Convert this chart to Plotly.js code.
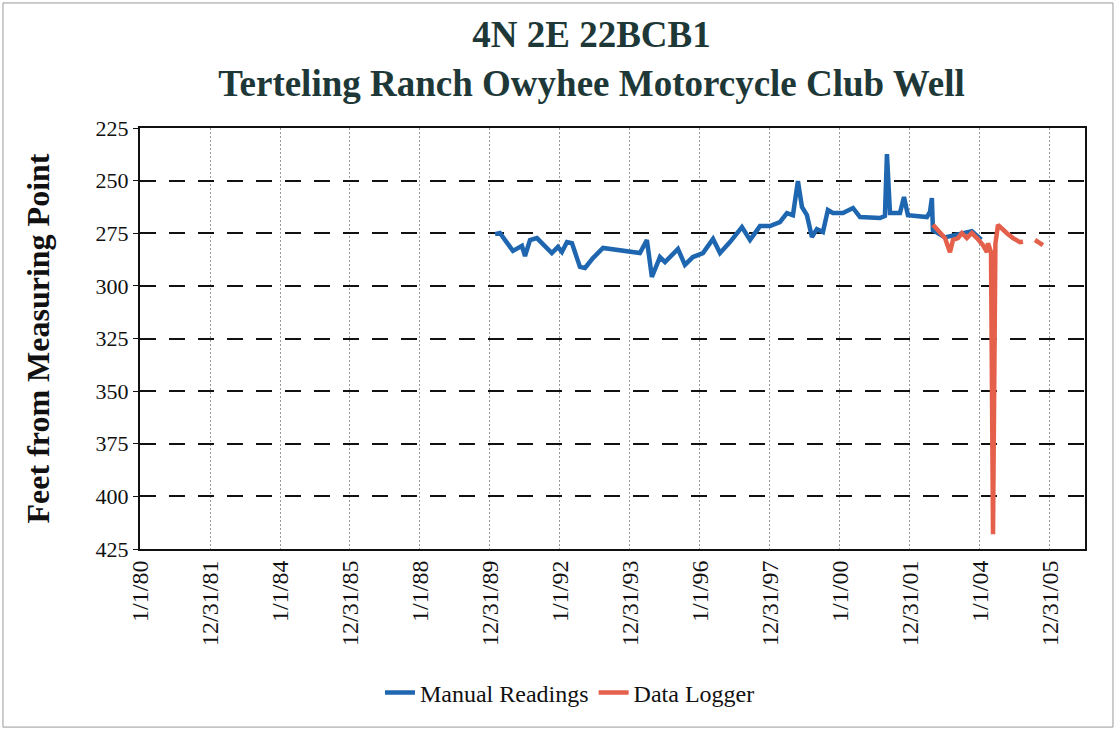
<!DOCTYPE html>
<html>
<head>
<meta charset="utf-8">
<script src="https://cdn.plot.ly/plotly-3.0.1.min.js"></script>
<style>html,body{margin:0;padding:0;background:#fff;}#chart{width:1116px;height:730px;}</style>
</head>
<body>
<div id="chart"></div>
<script>
// Manual readings (date, depth to water in feet)
const manualDates = [
  '1990-02-22','1990-04-14','1990-08-28','1990-11-30','1991-01-01','1991-02-22','1991-05-05',
  '1991-10-08','1991-12-10','1992-01-21','1992-03-14','1992-05-05','1992-07-27','1992-09-18',
  '1992-12-10','1993-03-25','1994-04-14','1994-06-26','1994-08-17','1994-11-09','1995-01-01',
  '1995-05-16','1995-07-28','1995-10-19','1996-02-01','1996-05-16','1996-07-28','1996-11-09',
  '1997-03-14','1997-06-06','1997-09-18','1998-01-01','1998-04-14','1998-06-26','1998-08-28',
  '1998-10-19','1998-11-30','1999-01-21','1999-03-14','1999-05-05','1999-07-07','1999-08-28',
  '1999-10-19','2000-02-01','2000-05-16','2000-07-28','2001-02-22','2001-04-14','2001-05-05',
  '2001-06-06','2001-09-18','2001-10-30','2001-12-10','2002-06-26','2002-07-28','2002-08-17',
  '2002-08-28','2003-01-01','2003-10-08','2004-01-15'
];
const manualValues = [
  275.4,274.9,283.4,281.0,285.8,278.2,277.3,
  284.4,281.5,283.9,279.2,279.7,291.0,291.5,
  286.8,282.0,284.4,278.2,295.8,286.3,288.7,
  282.5,290.0,286.3,284.4,277.7,284.4,279.2,
  272.1,278.2,271.6,271.6,269.7,265.4,266.4,
  250.2,262.5,266.4,276.8,273.0,274.4,264.0,
  265.4,265.4,263.0,267.3,267.8,266.8,237.4,
  265.4,265.4,257.8,266.4,267.3,264.9,258.3,
  273.5,277.0,274.0,278.0
];

// Data logger readings (null = gap in record)
const loggerDates = [
  '2002-08-28','2002-11-09','2003-01-01','2003-02-22','2003-03-25','2003-05-16','2003-06-26',
  '2003-08-17','2003-10-08','2003-11-30','2004-02-01','2004-03-14','2004-03-25','2004-04-25',
  '2004-05-16','2004-06-10','2004-07-07','2004-10-08','2004-12-10','2005-02-22','2005-03-25',
  '2005-05-20','2005-07-28','2005-10-19'
];
const loggerValues = [
  271.0,275.0,277.3,284.0,278.2,277.3,274.9,
  277.3,274.9,277.3,280.6,284.0,279.7,284.0,
  418.0,280.0,271.0,275.0,277.3,279.2,279.0,
  null,278.2,280.6
];

// Axis ticks (2-year steps of 730.5 days)
const xTickVals = [
  '1980-01-01','1981-12-31 12:00','1984-01-01','1985-12-31 12:00','1988-01-01','1989-12-31 12:00',
  '1992-01-01','1993-12-31 12:00','1996-01-01','1997-12-31 12:00','2000-01-01','2001-12-31 12:00',
  '2004-01-01','2005-12-31 12:00'
];
const xTickText = [
  '1/1/80','12/31/81','1/1/84','12/31/85','1/1/88','12/31/89','1/1/92','12/31/93',
  '1/1/96','12/31/97','1/1/00','12/31/01','1/1/04','12/31/05'
];
const yTickVals = [225,250,275,300,325,350,375,400,425];

const serif = 'Liberation Serif, Times New Roman, serif';

const traces = [
  {x: manualDates, y: manualValues, type: 'scatter', mode: 'lines', name: 'Manual Readings',
   line: {color: '#1f66b1', width: 4.5}},
  {x: loggerDates, y: loggerValues, type: 'scatter', mode: 'lines', name: 'Data Logger',
   connectgaps: false, line: {color: '#e5604a', width: 4.5}}
];

const layout = {
  width: 1116, height: 730,
  margin: {l: 140, r: 31, t: 128, b: 181},
  paper_bgcolor: '#fff', plot_bgcolor: '#fff',
  title: {
    text: '<b>4N 2E 22BCB1</b><br><b>Terteling Ranch Owyhee Motorcycle Club Well</b>',
    font: {family: serif, size: 37, color: '#1e3838'},
    x: 0.53, xanchor: 'center', y: 0.935, yanchor: 'middle', yref: 'container'
  },
  xaxis: {
    type: 'date', range: ['1980-01-01','2007-01-01'],
    tickmode: 'array', tickvals: xTickVals, ticktext: xTickText, tickangle: -90,
    tickfont: {family: serif, size: 24, color: '#111'},
    showgrid: true, gridcolor: '#999', gridwidth: 1, griddash: '2px,2px',
    showline: true, linecolor: '#111', linewidth: 2, mirror: true,
    ticks: '', zeroline: false, fixedrange: true
  },
  yaxis: {
    range: [425, 225], tickmode: 'array', tickvals: yTickVals,
    tickfont: {family: serif, size: 22, color: '#111'},
    title: {text: '<b>Feet from Measuring Point</b>', font: {family: serif, size: 32, color: '#111'}, standoff: 36},
    showgrid: true, gridcolor: '#111', gridwidth: 2, griddash: '16px,13px',
    showline: true, linecolor: '#111', linewidth: 2, mirror: true,
    ticks: 'outside', ticklen: 5, tickcolor: '#111', zeroline: false, fixedrange: true
  },
  legend: {
    orientation: 'h', x: 0.455, xanchor: 'center', y: -0.342, yanchor: 'middle',
    font: {family: serif, size: 24, color: '#111'}, bgcolor: 'rgba(0,0,0,0)'
  },
  shapes: [
    {type: 'rect', xref: 'paper', yref: 'paper', x0: -0.145, x1: 1.0296, y0: -0.423, y1: 1.297,
     line: {color: '#999', width: 1}, fillcolor: 'rgba(0,0,0,0)', layer: 'below'}
  ],
  showlegend: true
};

Plotly.newPlot('chart', traces, layout, {displayModeBar: false, staticPlot: true});
</script>
</body>
</html>
